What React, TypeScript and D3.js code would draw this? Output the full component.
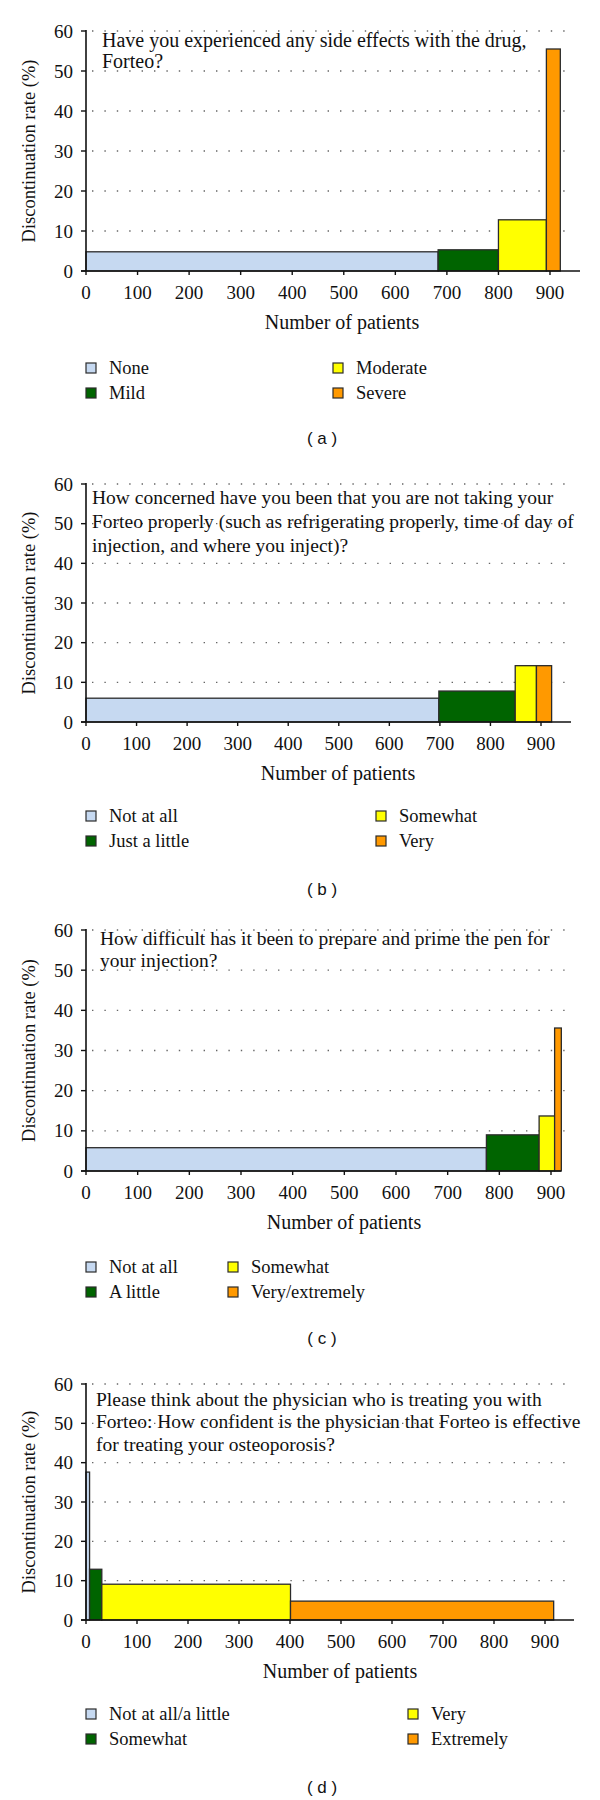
import * as d3 from "d3";

// Discontinuation rate by answer group, four survey questions (a-d)

const categoriesA = ["None", "Mild", "Moderate", "Severe"];
const patientsA = [683, 117, 93, 27];
const ratesA = [4.8, 5.3, 12.8, 55.5];
const titleA = ["Have you experienced any side effects with the drug,", "Forteo?"];

const categoriesB = ["Not at all", "Just a little", "Somewhat", "Very"];
const patientsB = [698, 151, 42, 30];
const ratesB = [6.0, 7.8, 14.2, 14.2];
const titleB = [
  "How concerned have you been that you are not taking your",
  "Forteo properly (such as refrigerating properly, time of day of",
  "injection, and where you inject)?",
];

const categoriesC = ["Not at all", "A little", "Somewhat", "Very/extremely"];
const patientsC = [775, 102, 30, 13];
const ratesC = [5.8, 9.0, 13.7, 35.6];
const titleC = ["How difficult has it been to prepare and prime the pen for", "your injection?"];

const categoriesD = ["Not at all/a little", "Somewhat", "Very", "Extremely"];
const patientsD = [7, 24, 370, 516];
const ratesD = [37.6, 12.9, 9.1, 4.8];
const titleD = [
  "Please think about the physician who is treating you with",
  "Forteo: How confident is the physician that Forteo is effective",
  "for treating your osteoporosis?",
];

const yTicks = [0, 10, 20, 30, 40, 50, 60];
const xTicks = [0, 100, 200, 300, 400, 500, 600, 700, 800, 900];
const captions = ["( a )", "( b )", "( c )", "( d )"];

const colors = ["#c6d9f1", "#006400", "#ffff00", "#ff9900"];
const SERIF = "'Liberation Serif', 'Times New Roman', serif";
const AXIS_X = 86;

interface PanelProps {
  categories: string[];
  patients: number[];
  rates: number[];
  title: string[];
  caption: string;
  top: number; // y of 60
  bottom: number; // y of 0
  x900: number;
  axisEnd: number;
  gridEnd: number;
  titleX: number;
  titleY: number[];
  titleSize: number;
  labelX: number;
  col2: number;
  legendY: number;
}

function Panel(p: PanelProps) {
  const x = d3.scaleLinear().domain([0, 900]).range([AXIS_X, p.x900]);
  const y = d3.scaleLinear().domain([0, 60]).range([p.bottom, p.top]);
  const ends = d3.cumsum(p.patients);
  const starts = ends.map((e, i) => e - p.patients[i]);

  return (
    <g>
      {/* dotted grid */}
      {yTicks.slice(1).map((t) => (
        <line
          key={"g" + t}
          x1={AXIS_X + 6}
          x2={p.gridEnd}
          y1={y(t)}
          y2={y(t)}
          stroke="#666"
          strokeWidth={1.4}
          strokeDasharray="1.4 11"
        />
      ))}

      {/* title */}
      <text fontFamily={SERIF} fontSize={p.titleSize} fill="#111">
        {p.title.map((line, i) => (
          <tspan key={i} x={p.titleX} y={p.titleY[i]}>
            {line}
          </tspan>
        ))}
      </text>

      {/* bars */}
      {p.rates.map((r, i) => (
        <rect
          key={"b" + i}
          x={x(starts[i])}
          y={y(r)}
          width={x(ends[i]) - x(starts[i])}
          height={y(0) - y(r)}
          fill={colors[i]}
          stroke="#2b2b2b"
          strokeWidth={1.3}
        />
      ))}

      {/* axes */}
      <line x1={AXIS_X} x2={AXIS_X} y1={p.top - 1} y2={p.bottom} stroke="#111" strokeWidth={1.6} />
      <line x1={AXIS_X - 5} x2={p.axisEnd} y1={p.bottom} y2={p.bottom} stroke="#111" strokeWidth={1.6} />
      {yTicks.map((t) => (
        <g key={"y" + t}>
          <line x1={AXIS_X - 5} x2={AXIS_X} y1={y(t)} y2={y(t)} stroke="#111" strokeWidth={1.4} />
          <text
            x={AXIS_X - 13}
            y={y(t)}
            dy="0.35em"
            textAnchor="end"
            fontFamily={SERIF}
            fontSize={19}
            fill="#111"
          >
            {t}
          </text>
        </g>
      ))}
      {xTicks.map((t) => (
        <g key={"x" + t}>
          <line x1={x(t)} x2={x(t)} y1={p.bottom} y2={p.bottom + 4} stroke="#111" strokeWidth={1.4} />
          <text
            x={x(t)}
            y={p.bottom + 28}
            textAnchor="middle"
            fontFamily={SERIF}
            fontSize={19}
            fill="#111"
          >
            {t}
          </text>
        </g>
      ))}

      <text
        transform={`translate(35,${(p.top + p.bottom) / 2}) rotate(-90)`}
        textAnchor="middle"
        fontFamily={SERIF}
        fontSize={18.5}
        fill="#111"
      >
        Discontinuation rate (%)
      </text>
      <text
        x={p.labelX}
        y={p.bottom + 58}
        textAnchor="middle"
        fontFamily={SERIF}
        fontSize={20}
        fill="#111"
      >
        Number of patients
      </text>

      {/* legend */}
      {p.categories.map((c, i) => {
        const lx = i < 2 ? AXIS_X : p.col2;
        const ly = p.bottom + p.legendY + (i % 2) * 25;
        return (
          <g key={"l" + i}>
            <rect x={lx} y={ly - 5} width={10} height={10} fill={colors[i]} stroke="#2b2b2b" strokeWidth={1.2} />
            <text x={lx + 23} y={ly + 6} fontFamily={SERIF} fontSize={18.5} fill="#111">
              {c}
            </text>
          </g>
        );
      })}

      <text
        x={322}
        y={p.bottom + 173}
        textAnchor="middle"
        fontFamily="'Liberation Sans', Arial, sans-serif"
        fontSize={17}
        fill="#111"
      >
        {p.caption}
      </text>
    </g>
  );
}

export default function App() {
  return (
    <svg
      width={600}
      height={1800}
      style={{ position: "absolute", left: 0, top: 0, background: "#fff" }}
    >
      <Panel
        categories={categoriesA}
        patients={patientsA}
        rates={ratesA}
        title={titleA}
        caption={captions[0]}
        top={31}
        bottom={271}
        x900={550}
        axisEnd={580}
        gridEnd={574}
        titleX={102}
        titleY={[47, 68]}
        titleSize={20}
        labelX={342}
        col2={333}
        legendY={97}
      />
      <Panel
        categories={categoriesB}
        patients={patientsB}
        rates={ratesB}
        title={titleB}
        caption={captions[1]}
        top={484}
        bottom={722}
        x900={541}
        axisEnd={571}
        gridEnd={566}
        titleX={92}
        titleY={[504, 528, 552]}
        titleSize={19.5}
        labelX={338}
        col2={376}
        legendY={94}
      />
      <Panel
        categories={categoriesC}
        patients={patientsC}
        rates={ratesC}
        title={titleC}
        caption={captions[2]}
        top={930}
        bottom={1171}
        x900={551}
        axisEnd={561}
        gridEnd={575}
        titleX={100}
        titleY={[945, 967]}
        titleSize={19.5}
        labelX={344}
        col2={228}
        legendY={96}
      />
      <Panel
        categories={categoriesD}
        patients={patientsD}
        rates={ratesD}
        title={titleD}
        caption={captions[3]}
        top={1384}
        bottom={1620}
        x900={545}
        axisEnd={574}
        gridEnd={568}
        titleX={96}
        titleY={[1406, 1428, 1451]}
        titleSize={19.5}
        labelX={340}
        col2={408}
        legendY={94}
      />
    </svg>
  );
}
